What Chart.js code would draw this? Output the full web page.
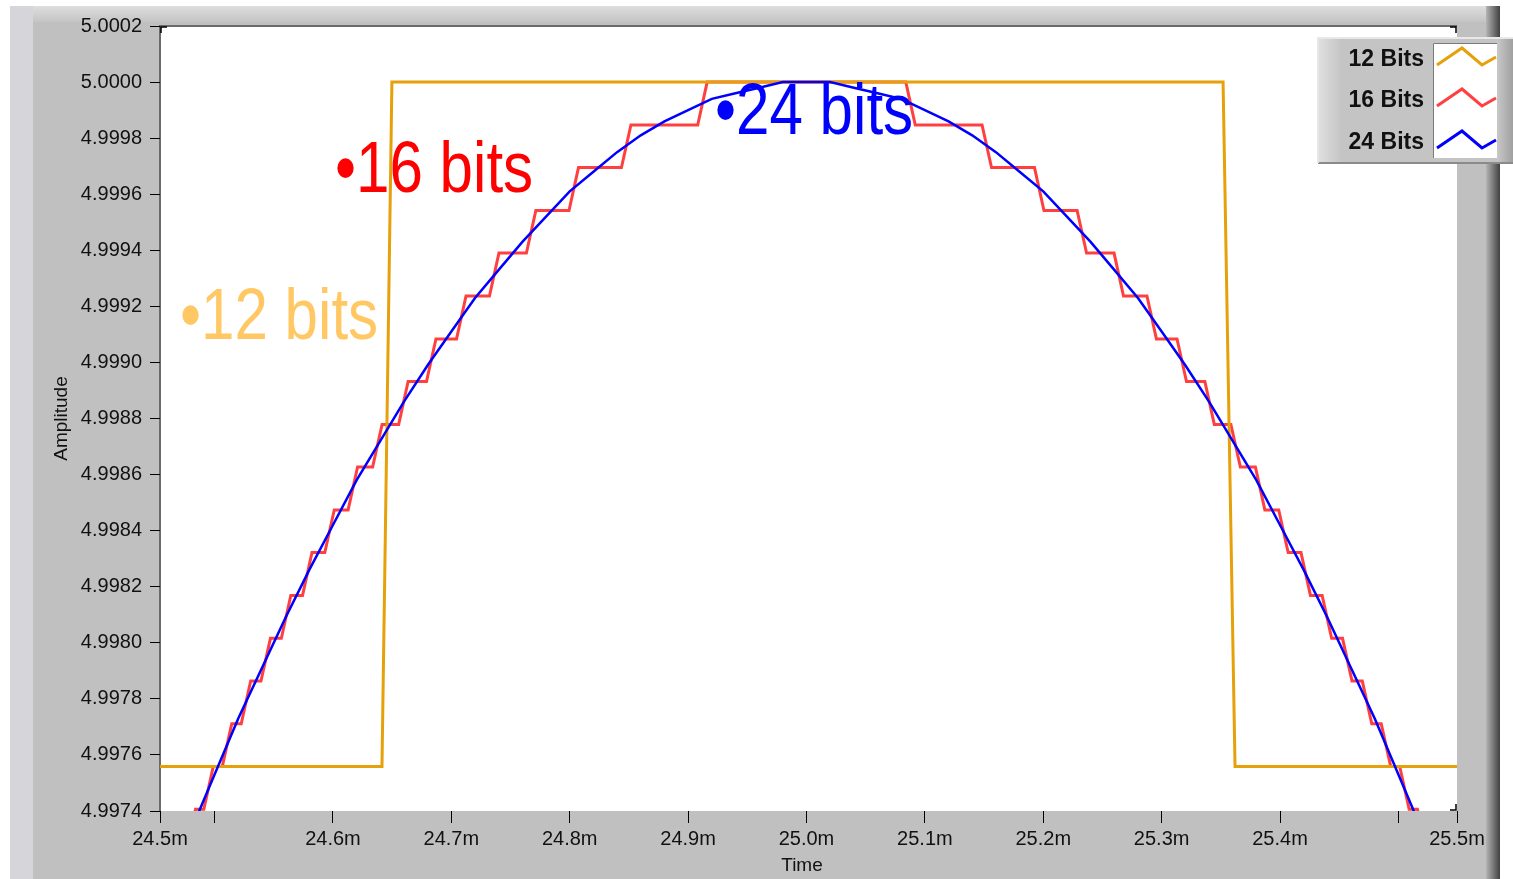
<!DOCTYPE html>
<html>
<head>
<meta charset="utf-8">
<script src="https://cdn.jsdelivr.net/npm/chart.js@4.4.0/dist/chart.umd.min.js"></script>
<style>
  html, body { margin: 0; padding: 0; background: #fff; }
  #wrap { width: 1513px; height: 879px; position: relative; }
</style>
</head>
<body>
<div id="wrap"><canvas id="myChart"></canvas></div>
<script>

// axis range (ms / volts)
var xMin = 24.4539;
var xMax = 25.5495;
var yMin = 4.9974;
var yMax = 5.0002;

var xTicks = [24.4539, 24.5, 24.6, 24.7, 24.8, 24.9, 25.0, 25.1, 25.2, 25.3, 25.4, 25.5, 25.5495];
var xTickLabels = ['24.5m', '', '24.6m', '24.7m', '24.8m', '24.9m', '25.0m', '25.1m', '25.2m', '25.3m', '25.4m', '', '25.5m'];
var yTicks = [4.9974, 4.9976, 4.9978, 4.9980, 4.9982, 4.9984, 4.9986, 4.9988, 4.9990, 4.9992, 4.9994, 4.9996, 4.9998, 5.0000, 5.0002];

var seriesNames = ['12 Bits', '16 Bits', '24 Bits'];

// 12 bits trace
var time12 = [24.4539, 24.6414, 24.6498, 25.3519, 25.3620, 25.5495];
var amp12 = [4.997559, 4.997559, 5.000000, 5.000000, 4.997559, 4.997559];

// 16 bits trace (staircase corners)
var time16 = [
	24.4759, 24.4839, 24.4909, 24.4989, 24.5065, 24.5145, 24.5225, 24.5305, 24.5392, 24.5472,
	24.5564, 24.5644, 24.5743, 24.5823, 24.5931, 24.6011, 24.6128, 24.6208, 24.6335, 24.6415,
	24.6555, 24.6635, 24.6790, 24.6870, 24.7044, 24.7124, 24.7322, 24.7402, 24.7634, 24.7714,
	24.7994, 24.8074, 24.8437, 24.8517, 24.9081, 24.9161,
	25.0839, 25.0919, 25.1483, 25.1563, 25.1926, 25.2006, 25.2286, 25.2366, 25.2598, 25.2678,
	25.2876, 25.2956, 25.3130, 25.3210, 25.3365, 25.3445, 25.3585, 25.3665, 25.3792, 25.3872,
	25.3989, 25.4069, 25.4177, 25.4257, 25.4356, 25.4436, 25.4528, 25.4608, 25.4695, 25.4775,
	25.4855, 25.4935, 25.5011, 25.5091, 25.5161, 25.5241
];
var amp16 = [
	4.997253, 4.997406, 4.997406, 4.997559, 4.997559, 4.997711, 4.997711, 4.997864, 4.997864, 4.998016,
	4.998016, 4.998169, 4.998169, 4.998322, 4.998322, 4.998474, 4.998474, 4.998627, 4.998627, 4.998779,
	4.998779, 4.998932, 4.998932, 4.999084, 4.999084, 4.999237, 4.999237, 4.999390, 4.999390, 4.999542,
	4.999542, 4.999695, 4.999695, 4.999847, 4.999847, 5.000000,
	5.000000, 4.999847, 4.999847, 4.999695, 4.999695, 4.999542, 4.999542, 4.999390, 4.999390, 4.999237,
	4.999237, 4.999084, 4.999084, 4.998932, 4.998932, 4.998779, 4.998779, 4.998627, 4.998627, 4.998474,
	4.998474, 4.998322, 4.998322, 4.998169, 4.998169, 4.998016, 4.998016, 4.997864, 4.997864, 4.997711,
	4.997711, 4.997559, 4.997559, 4.997406, 4.997406, 4.997253
];

// 24 bits trace
var time24 = [
	24.46, 24.48, 24.50, 24.52, 24.54, 24.56, 24.58, 24.60, 24.62, 24.64, 24.66, 24.68, 24.70, 24.72,
	24.74, 24.76, 24.78, 24.80, 24.82, 24.84, 24.86, 24.88, 24.90, 24.92, 24.94, 24.96, 24.98, 25.00,
	25.02, 25.04, 25.06, 25.08, 25.10, 25.12, 25.14, 25.16, 25.18, 25.20, 25.22, 25.24, 25.26, 25.28,
	25.30, 25.32, 25.34, 25.36, 25.38, 25.40, 25.42, 25.44, 25.46, 25.48, 25.50, 25.52, 25.54
];
var amp24 = [
	4.99712, 4.99733, 4.99753, 4.99773, 4.99791, 4.99809, 4.99826, 4.99842, 4.99858, 4.99872, 4.99886, 4.99899, 4.99911, 4.99923,
	4.99933, 4.99943, 4.99952, 4.99961, 4.99968, 4.99975, 4.99981, 4.99986, 4.99990, 4.99994, 4.99996, 4.99998, 5.00000, 5.00000,
	5.00000, 4.99998, 4.99996, 4.99994, 4.99990, 4.99986, 4.99981, 4.99975, 4.99968, 4.99961, 4.99952, 4.99943, 4.99933, 4.99923,
	4.99911, 4.99899, 4.99886, 4.99872, 4.99858, 4.99842, 4.99826, 4.99809, 4.99791, 4.99773, 4.99753, 4.99733, 4.99712
];

var colors = ['rgb(230, 160, 10)', 'rgb(255, 64, 64)', 'rgb(0, 0, 255)'];

function toPoints(t, v) {
	var pts = [];
	for (var i = 0; i < t.length; i++) {
		pts.push({ x: t[i], y: v[i] });
	}
	return pts;
}

// LabVIEW style frame, annotations and legend
var framePlugin = {
	id: 'frame',
	beforeDraw: function (chart) {
		var ctx = chart.ctx, a = chart.chartArea;
		var W = chart.width, H = chart.height;
		ctx.save();
		ctx.fillStyle = '#ffffff';
		ctx.fillRect(0, 0, W, H);
		ctx.fillStyle = '#c0c0c0';
		ctx.fillRect(10, 6, 1490, H - 6);
		ctx.fillStyle = '#d6d6da';
		ctx.fillRect(10, 6, 23, H - 6);
		var g = ctx.createLinearGradient(0, 6, 0, 22);
		g.addColorStop(0, '#dedede');
		g.addColorStop(1, '#c4c4c4');
		ctx.fillStyle = g;
		ctx.fillRect(33, 6, 1455, 16);
		var g2 = ctx.createLinearGradient(1486, 0, 1500, 0);
		g2.addColorStop(0, '#b4b4b4');
		g2.addColorStop(1, '#404040');
		ctx.fillStyle = g2;
		ctx.fillRect(1486, 6, 14, H - 6);
		ctx.fillStyle = '#ffffff';
		ctx.fillRect(a.left, a.top, a.right - a.left, a.bottom - a.top);
		ctx.strokeStyle = '#6a6a6a';
		ctx.lineWidth = 2;
		ctx.beginPath();
		ctx.moveTo(a.left, a.bottom);
		ctx.lineTo(a.left, a.top);
		ctx.lineTo(a.right, a.top);
		ctx.stroke();
		ctx.restore();
	},
	afterDatasetsDraw: function (chart) {
		var ctx = chart.ctx;
		var notes = [
			{ text: '\u202212 bits', x: 180, y: 339, color: 'rgb(255, 200, 100)' },
			{ text: '\u202216 bits', x: 335, y: 192, color: 'rgb(255, 0, 0)' },
			{ text: '\u202224 bits', x: 715, y: 134, color: 'rgb(0, 0, 255)' }
		];
		ctx.save();
		ctx.font = '72px "Liberation Sans", Arial, sans-serif';
		ctx.textBaseline = 'alphabetic';
		ctx.textAlign = 'left';
		notes.forEach(function (n) {
			ctx.save();
			ctx.translate(n.x, n.y);
			ctx.scale(0.835, 1);
			ctx.fillStyle = n.color;
			ctx.fillText(n.text, 0, 0);
			ctx.restore();
		});
		ctx.restore();
	},
	afterDraw: function (chart) {
		var ctx = chart.ctx, a = chart.chartArea;
		ctx.save();

		// corner marks
		ctx.strokeStyle = '#000';
		ctx.lineWidth = 1.5;
		ctx.beginPath();
		ctx.moveTo(a.left + 7, a.top + 1); ctx.lineTo(a.left + 1, a.top + 1); ctx.lineTo(a.left + 1, a.top + 7);
		ctx.moveTo(a.right - 7, a.top + 1); ctx.lineTo(a.right - 1, a.top + 1); ctx.lineTo(a.right - 1, a.top + 7);
		ctx.moveTo(a.right - 7, a.bottom - 1); ctx.lineTo(a.right - 1, a.bottom - 1); ctx.lineTo(a.right - 1, a.bottom - 7);
		ctx.stroke();

		// axis titles
		ctx.fillStyle = '#111';
		ctx.font = '19px "Liberation Sans", Arial, sans-serif';
		ctx.textAlign = 'center';
		ctx.textBaseline = 'middle';
		ctx.fillText('Time', 802, 866);
		ctx.save();
		ctx.translate(62, (a.top + a.bottom) / 2);
		ctx.rotate(-Math.PI / 2);
		ctx.fillText('Amplitude', 0, 0);
		ctx.restore();

		// legend box
		var lx = 1318, ly = 38, lw = 195, lh = 125;
		ctx.fillStyle = '#c4c4c4';
		ctx.fillRect(lx, ly, lw, lh);
		var lg = ctx.createLinearGradient(lx, 0, lx + 24, 0);
		lg.addColorStop(0, '#e0e0e0');
		lg.addColorStop(1, '#c4c4c4');
		ctx.fillStyle = lg;
		ctx.fillRect(lx, ly, 24, lh);
		ctx.strokeStyle = '#8a8a8a';
		ctx.lineWidth = 2;
		ctx.beginPath();
		ctx.moveTo(lx, ly + lh); ctx.lineTo(lx + lw, ly + lh);
		ctx.stroke();
		ctx.strokeStyle = '#e8e8e8';
		ctx.beginPath();
		ctx.moveTo(lx, ly + lh); ctx.lineTo(lx, ly); ctx.lineTo(lx + lw, ly);
		ctx.stroke();
		var rg = ctx.createLinearGradient(1497, 0, 1513, 0);
		rg.addColorStop(0, '#c8c8c8');
		rg.addColorStop(1, '#a0a0a0');
		ctx.fillStyle = rg;
		ctx.fillRect(1497, ly + 1, 16, lh - 2);
		ctx.fillStyle = '#ffffff';
		ctx.fillRect(1433, 43, 64, 115);
		ctx.strokeStyle = '#7a7a7a';
		ctx.lineWidth = 1;
		ctx.beginPath();
		ctx.moveTo(1433.5, 158); ctx.lineTo(1433.5, 43.5); ctx.lineTo(1497, 43.5);
		ctx.stroke();

		ctx.font = 'bold 23px "Liberation Sans", Arial, sans-serif';
		ctx.textAlign = 'right';
		ctx.textBaseline = 'middle';
		var rows = [60, 101, 143];
		for (var i = 0; i < seriesNames.length; i++) {
			var cy = rows[i];
			ctx.fillStyle = '#111';
			ctx.fillText(seriesNames[i], 1424, cy);
			ctx.strokeStyle = colors[i];
			ctx.lineWidth = 3;
			ctx.beginPath();
			ctx.moveTo(1437, cy + 5);
			ctx.lineTo(1462, cy - 12);
			ctx.lineTo(1482, cy + 5);
			ctx.lineTo(1496, cy - 3);
			ctx.stroke();
		}
		ctx.restore();
	}
};

var tickFont = { family: '"Liberation Sans", Arial, sans-serif', size: 20 };

var ctx = document.getElementById('myChart').getContext('2d');
var chart = new Chart(ctx, {
	type: 'line',
	data: {
		datasets: [
			{
				label: seriesNames[0],
				data: toPoints(time12, amp12),
				borderColor: colors[0],
				borderWidth: 3,
				order: 1
			},
			{
				label: seriesNames[1],
				data: toPoints(time16, amp16),
				borderColor: colors[1],
				borderWidth: 3,
				order: 2
			},
			{
				label: seriesNames[2],
				data: toPoints(time24, amp24),
				borderColor: colors[2],
				borderWidth: 2.5,
				order: 0
			}
		]
	},
	options: {
		responsive: true,
		maintainAspectRatio: false,
		animation: false,
		devicePixelRatio: 1,
		layout: { padding: { left: 0, top: 26, right: 56, bottom: 0 } },
		elements: {
			line: { tension: 0, fill: false },
			point: { radius: 0, hoverRadius: 0 }
		},
		plugins: {
			legend: { display: false },
			tooltip: { enabled: false }
		},
		scales: {
			x: {
				type: 'linear',
				min: xMin,
				max: xMax,
				afterBuildTicks: function (scale) {
					scale.ticks = xTicks.map(function (v) { return { value: v }; });
				},
				afterFit: function (scale) { scale.height = 68; },
				ticks: {
					autoSkip: false,
					maxRotation: 0,
					minRotation: 0,
					padding: 4,
					color: '#111',
					font: tickFont,
					callback: function (value, index) { return xTickLabels[index]; }
				},
				grid: { drawOnChartArea: false, drawTicks: true, tickLength: 12, color: '#000', tickColor: '#000' },
				border: { display: false }
			},
			y: {
				min: yMin,
				max: yMax,
				afterBuildTicks: function (scale) {
					scale.ticks = yTicks.map(function (v) { return { value: v }; });
				},
				afterFit: function (scale) { scale.width = 160; },
				ticks: {
					padding: 8,
					color: '#111',
					font: tickFont,
					callback: function (value) { return value.toFixed(4); }
				},
				grid: { drawOnChartArea: false, drawTicks: true, tickLength: 10, color: '#000', tickColor: '#000' },
				border: { display: false }
			}
		}
	},
	plugins: [framePlugin]
});

</script>
</body>
</html>
